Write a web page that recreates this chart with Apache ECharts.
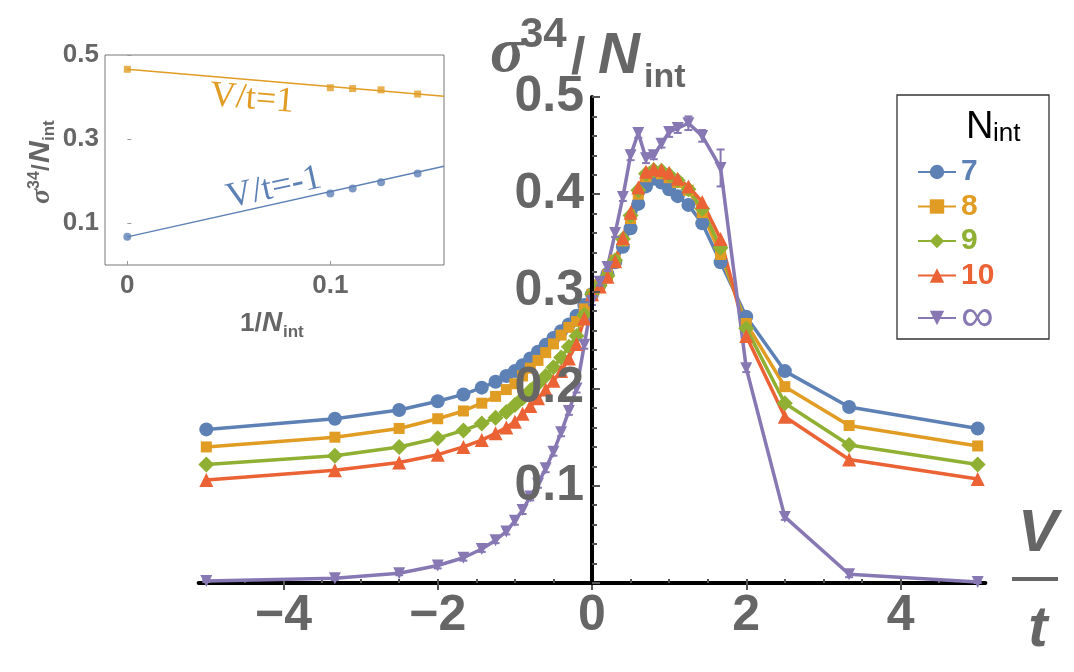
<!DOCTYPE html>
<html>
<head>
<meta charset="utf-8">
<title>sigma34 / N_int vs V/t</title>
<script src="https://cdn.jsdelivr.net/npm/echarts@6.0.0/dist/echarts.min.js"></script>
<style>
  html, body { margin: 0; padding: 0; background: #fff; }
  #chart { width: 1074px; height: 672px; }
</style>
</head>
<body>
<div id="chart"></div>
<script>
// V/t sample points (shared by every N_int curve)
const vt = [-5, -3.333, -2.5, -2, -1.667, -1.429, -1.25, -1.111, -1, -0.9, -0.8, -0.7, -0.6, -0.5, -0.4, -0.3, -0.2, -0.1, 0,
            0.1, 0.2, 0.3, 0.4, 0.5, 0.6, 0.7, 0.8, 0.9, 1, 1.111, 1.25, 1.429, 1.667, 2, 2.5, 3.333, 5];

// sigma34 / N_int, one array per N_int
const n7 = [0.158, 0.169, 0.178, 0.187, 0.194, 0.201, 0.207, 0.213, 0.218, 0.224, 0.231, 0.238, 0.245, 0.252, 0.259, 0.266, 0.275, 0.286, 0.297,
            0.307, 0.318, 0.330, 0.346, 0.365, 0.390, 0.408, 0.416, 0.412, 0.405, 0.398, 0.389, 0.370, 0.330, 0.274, 0.218, 0.181, 0.159];
const n8 = [0.140, 0.150, 0.159, 0.169, 0.177, 0.185, 0.192, 0.199, 0.205, 0.213, 0.221, 0.229, 0.237, 0.246, 0.255, 0.263, 0.269, 0.282, 0.297,
            0.307, 0.317, 0.332, 0.352, 0.375, 0.400, 0.418, 0.423, 0.421, 0.417, 0.412, 0.404, 0.381, 0.338, 0.267, 0.202, 0.162, 0.141];
const n9 = [0.122, 0.131, 0.140, 0.149, 0.157, 0.164, 0.170, 0.176, 0.183, 0.190, 0.198, 0.205, 0.213, 0.222, 0.232, 0.243, 0.254, 0.276, 0.297,
            0.306, 0.316, 0.332, 0.354, 0.378, 0.404, 0.421, 0.425, 0.424, 0.420, 0.414, 0.405, 0.385, 0.345, 0.262, 0.185, 0.142, 0.122];
const n10 = [0.106, 0.116, 0.124, 0.132, 0.140, 0.147, 0.154, 0.160, 0.166, 0.174, 0.182, 0.190, 0.199, 0.208, 0.218, 0.231, 0.246, 0.272, 0.297,
             0.305, 0.315, 0.331, 0.355, 0.381, 0.407, 0.423, 0.426, 0.425, 0.422, 0.416, 0.408, 0.392, 0.354, 0.254, 0.171, 0.127, 0.107];
const nInf = [0.002, 0.005, 0.010, 0.018, 0.026, 0.035, 0.044, 0.053, 0.064, 0.075, 0.089, 0.102, 0.118, 0.135, 0.155, 0.177, 0.200, 0.245, 0.290,
              0.310, 0.325, 0.360, 0.397, 0.440, 0.463, 0.437, 0.440, 0.452, 0.464, 0.468, 0.473, 0.460, 0.427, 0.221, 0.068, 0.009, 0.001];
// error bars on the extrapolated (infinity) curve
const errInf = [0.001, 0.002, 0.002, 0.003, 0.003, 0.003, 0.003, 0.003, 0.004, 0.004, 0.004, 0.004, 0.004, 0.004, 0.004, 0.004, 0.004, 0.004, 0.004,
                0.004, 0.004, 0.004, 0.004, 0.005, 0.005, 0.005, 0.004, 0.004, 0.005, 0.005, 0.007, 0.006, 0.019, 0.004, 0.003, 0.003, 0.001];

const seriesNames = ['7', '8', '9', '10', '∞'];

// main axis ticks
const xLabelTicks = [-4, -2, 0, 2, 4];
const xMinorTicks = [-5, -4.5, -4, -3.5, -3, -2.5, -2, -1.5, -1, -0.5, 0, 0.5, 1, 1.5, 2, 2.5, 3, 3.5, 4, 4.5, 5];

// inset: extrapolation in 1/N_int
const invN = [0, 0.1, 0.111, 0.125, 0.143];
const insetPlus = [0.466, 0.422, 0.420, 0.417, 0.407];   // V/t = 1
const insetMinus = [0.067, 0.170, 0.182, 0.197, 0.218];  // V/t = -1
const fitX = [0, 0.156];
const fitPlus = [0.466, 0.402];
const fitMinus = [0.067, 0.235];
const insetXTicks = [0, 0.1];
const insetYTicks = [0.1, 0.3, 0.5];

const colors = ['#5E81B5', '#E19C24', '#8FB032', '#EB6235', '#8778B3'];
const gray = '#666';
const sans = '"Liberation Sans", Arial, sans-serif';
const serif = '"Liberation Serif", "Times New Roman", serif';

const chart = echarts.init(document.getElementById('chart'));

function label(x, base, text, style, size, family, fill, align) {
  return {
    type: 'text', x: x, y: base - 0.347 * size, z: 100,
    style: {
      text: text, font: style + ' ' + size + 'px ' + family, fill: fill || gray,
      align: align || 'left', textAlign: align || 'left',
      verticalAlign: 'middle', textVerticalAlign: 'middle'
    }
  };
}

function line(name, ys, color, symbol, size) {
  return {
    name: name, type: 'line', xAxisIndex: 0, yAxisIndex: 0,
    data: vt.map((x, i) => [x, ys[i]]),
    symbol: symbol, symbolSize: size,
    itemStyle: { color: color },
    lineStyle: { color: color, width: 3.5 },
    z: 2
  };
}

const tickFont = { color: gray, fontFamily: sans, fontWeight: 'bold', fontSize: 50 };
const minus = v => (v < 0 ? '\u2212' + Math.abs(v) : String(v));

chart.setOption({
  animation: false,
  grid: [
    // main plot, V/t from -5.1 to 5.1
    { left: 198.6, top: 97, width: 786.8, height: 486, outerBoundsMode: 'none' },
    // inset
    { left: 105, top: 55, width: 339, height: 210, show: true, borderColor: '#777', borderWidth: 1, outerBoundsMode: 'none' },
    // right half of the main plot, only to carry the y axis drawn at V/t = 0
    { left: 592, top: 97, width: 393.4, height: 486, outerBoundsMode: 'none' }
  ],
  xAxis: [
    {
      type: 'value', gridIndex: 0, min: -5.1, max: 5.1,
      axisLine: { onZero: false, lineStyle: { color: '#000', width: 4 } },
      axisTick: { inside: true, length: 4, customValues: xMinorTicks, lineStyle: { color: '#555', width: 2 } },
      axisLabel: Object.assign({ customValues: xLabelTicks, formatter: minus, margin: 8 }, tickFont),
      splitLine: { show: false }
    },
    {
      type: 'value', gridIndex: 0, min: -5.1, max: 5.1,
      axisLine: { show: false },
      axisTick: { inside: true, length: 7, customValues: xLabelTicks, lineStyle: { color: '#555', width: 2 } },
      axisLabel: { show: false },
      splitLine: { show: false }
    },
    {
      type: 'value', gridIndex: 1, min: -0.011, max: 0.156,
      axisLine: { show: false },
      axisTick: { inside: true, length: 4, customValues: insetXTicks, lineStyle: { color: '#999' } },
      axisLabel: { customValues: insetXTicks, formatter: v => (v === 0 ? '0' : v.toFixed(1)), color: gray, fontFamily: sans, fontWeight: 'bold', fontSize: 26, margin: 8 },
      splitLine: { show: false }
    },
    { type: 'value', gridIndex: 2, min: 0, max: 5.1, show: false }
  ],
  yAxis: [
    { type: 'value', gridIndex: 0, min: 0, max: 0.5, show: false },
    {
      type: 'value', gridIndex: 1, min: 0, max: 0.5,
      axisLine: { show: false },
      axisTick: { inside: true, length: 4, customValues: insetYTicks, lineStyle: { color: '#999' } },
      axisLabel: { customValues: insetYTicks, formatter: v => v.toFixed(1), color: gray, fontFamily: sans, fontWeight: 'bold', fontSize: 26, margin: 6 },
      splitLine: { show: false }
    },
    {
      type: 'value', gridIndex: 2, min: 0, max: 0.5, interval: 0.1, z: 5, position: 'left',
      axisLine: { onZero: false, lineStyle: { color: '#000', width: 4 } },
      axisTick: { inside: true, length: 8, lineStyle: { color: '#555', width: 2 } },
      minorTick: { show: true, splitNumber: 5, length: 5, lineStyle: { color: '#555', width: 2 } },
      axisLabel: Object.assign({ showMinLabel: false, margin: 8, formatter: v => v.toFixed(1) }, tickFont),
      splitLine: { show: false }
    }
  ],
  legend: {
    orient: 'vertical', left: 917, top: 157, padding: 0,
    itemWidth: 38, itemHeight: 18, itemGap: 4.5, selectedMode: false,
    textStyle: { fontFamily: sans, fontWeight: 'bold', fontSize: 30, lineHeight: 30 },
    data: seriesNames.map((n, i) => ({
      name: n,
      textStyle: i === 4
        ? { color: colors[i], fontWeight: 'normal', fontSize: 46, lineHeight: 30 }
        : { color: colors[i] }
    }))
  },
  graphic: { elements: [
    // legend frame and title
    { type: 'rect', z: 1, shape: { x: 897, y: 95, width: 152, height: 244 }, style: { fill: '#fff', stroke: '#333', lineWidth: 1.3 } },
    label(966, 141, 'N', 'normal', 38, sans, '#000'),
    label(993, 143, 'int', 'normal', 26, sans, '#000'),
    // main y title
    label(490, 77, 'σ', 'italic bold', 64, serif),
    label(520, 50, '34', 'bold', 42, sans),
    label(571, 78, '/', 'bold', 52, sans),
    label(598, 77, 'N', 'italic bold', 58, sans),
    label(644, 89, 'int', 'bold', 34, sans),
    // main x title V/t
    label(1038, 555, 'V', 'italic bold', 60, sans, gray, 'center'),
    { type: 'rect', z: 100, shape: { x: 1012, y: 577, width: 46, height: 4 }, style: { fill: gray } },
    label(1038, 650, 't', 'italic bold', 58, sans, gray, 'center'),
    // inset titles
    { type: 'group', x: 51, y: 204, rotation: Math.PI / 2, children: [
      label(0, 0, 'σ', 'italic bold', 28, serif),
      label(15, -11, '34', 'bold', 16, sans),
      label(33, 0, '/', 'bold', 24, sans),
      label(41, 0, 'N', 'italic bold', 30, sans),
      label(63, 4, 'int', 'bold', 17, sans)
    ] },
    label(240, 333, '1/', 'bold', 26, sans),
    label(262, 333, 'N', 'italic bold', 28, sans),
    label(283, 338, 'int', 'bold', 17, sans),
    // inset annotations
    { type: 'text', x: 252, y: 99, rotation: -0.082, z: 100,
      style: { text: 'V/t=1', font: '36px ' + serif, fill: colors[1], align: 'center', textAlign: 'center', verticalAlign: 'middle', textVerticalAlign: 'middle' } },
    { type: 'text', x: 274, y: 188, rotation: 0.22, z: 100,
      style: { text: 'V/t=-1', font: '36px ' + serif, fill: colors[0], align: 'center', textAlign: 'center', verticalAlign: 'middle', textVerticalAlign: 'middle' } }
  ] },
  series: [
    line('7', n7, colors[0], 'circle', 14),
    line('8', n8, colors[1], 'rect', 11),
    line('9', n9, colors[2], 'diamond', 16),
    line('10', n10, colors[3], 'triangle', 14),
    line('∞', nInf, colors[4], 'path://M0,0L10,0L5,9Z', 12),
    {
      name: 'err', type: 'custom', xAxisIndex: 0, yAxisIndex: 0, z: 3,
      data: vt.map((x, i) => [x, nInf[i], errInf[i]]),
      encode: { x: 0, y: 1 },
      renderItem: (params, api) => {
        const x = api.value(0), y = api.value(1), e = api.value(2);
        const top = api.coord([x, y + e]);
        const bot = api.coord([x, y - e]);
        const st = { stroke: colors[4], lineWidth: 2 };
        return { type: 'group', children: [
          { type: 'line', shape: { x1: top[0], y1: top[1], x2: bot[0], y2: bot[1] }, style: st },
          { type: 'line', shape: { x1: top[0] - 4, y1: top[1], x2: top[0] + 4, y2: top[1] }, style: st },
          { type: 'line', shape: { x1: bot[0] - 4, y1: bot[1], x2: bot[0] + 4, y2: bot[1] }, style: st }
        ] };
      }
    },
    // inset: fits and points
    { name: 'fit+', type: 'line', xAxisIndex: 2, yAxisIndex: 1, data: fitX.map((x, i) => [x, fitPlus[i]]),
      symbol: 'none', lineStyle: { color: colors[1], width: 1.5 } },
    { name: 'fit-', type: 'line', xAxisIndex: 2, yAxisIndex: 1, data: fitX.map((x, i) => [x, fitMinus[i]]),
      symbol: 'none', lineStyle: { color: colors[0], width: 1.5 } },
    { name: 'pts+', type: 'scatter', xAxisIndex: 2, yAxisIndex: 1, data: invN.map((x, i) => [x, insetPlus[i]]),
      symbol: 'rect', symbolSize: 7, itemStyle: { color: colors[1] } },
    { name: 'pts-', type: 'scatter', xAxisIndex: 2, yAxisIndex: 1, data: invN.map((x, i) => [x, insetMinus[i]]),
      symbol: 'circle', symbolSize: 8, itemStyle: { color: colors[0] } }
  ]
});
</script>
</body>
</html>
